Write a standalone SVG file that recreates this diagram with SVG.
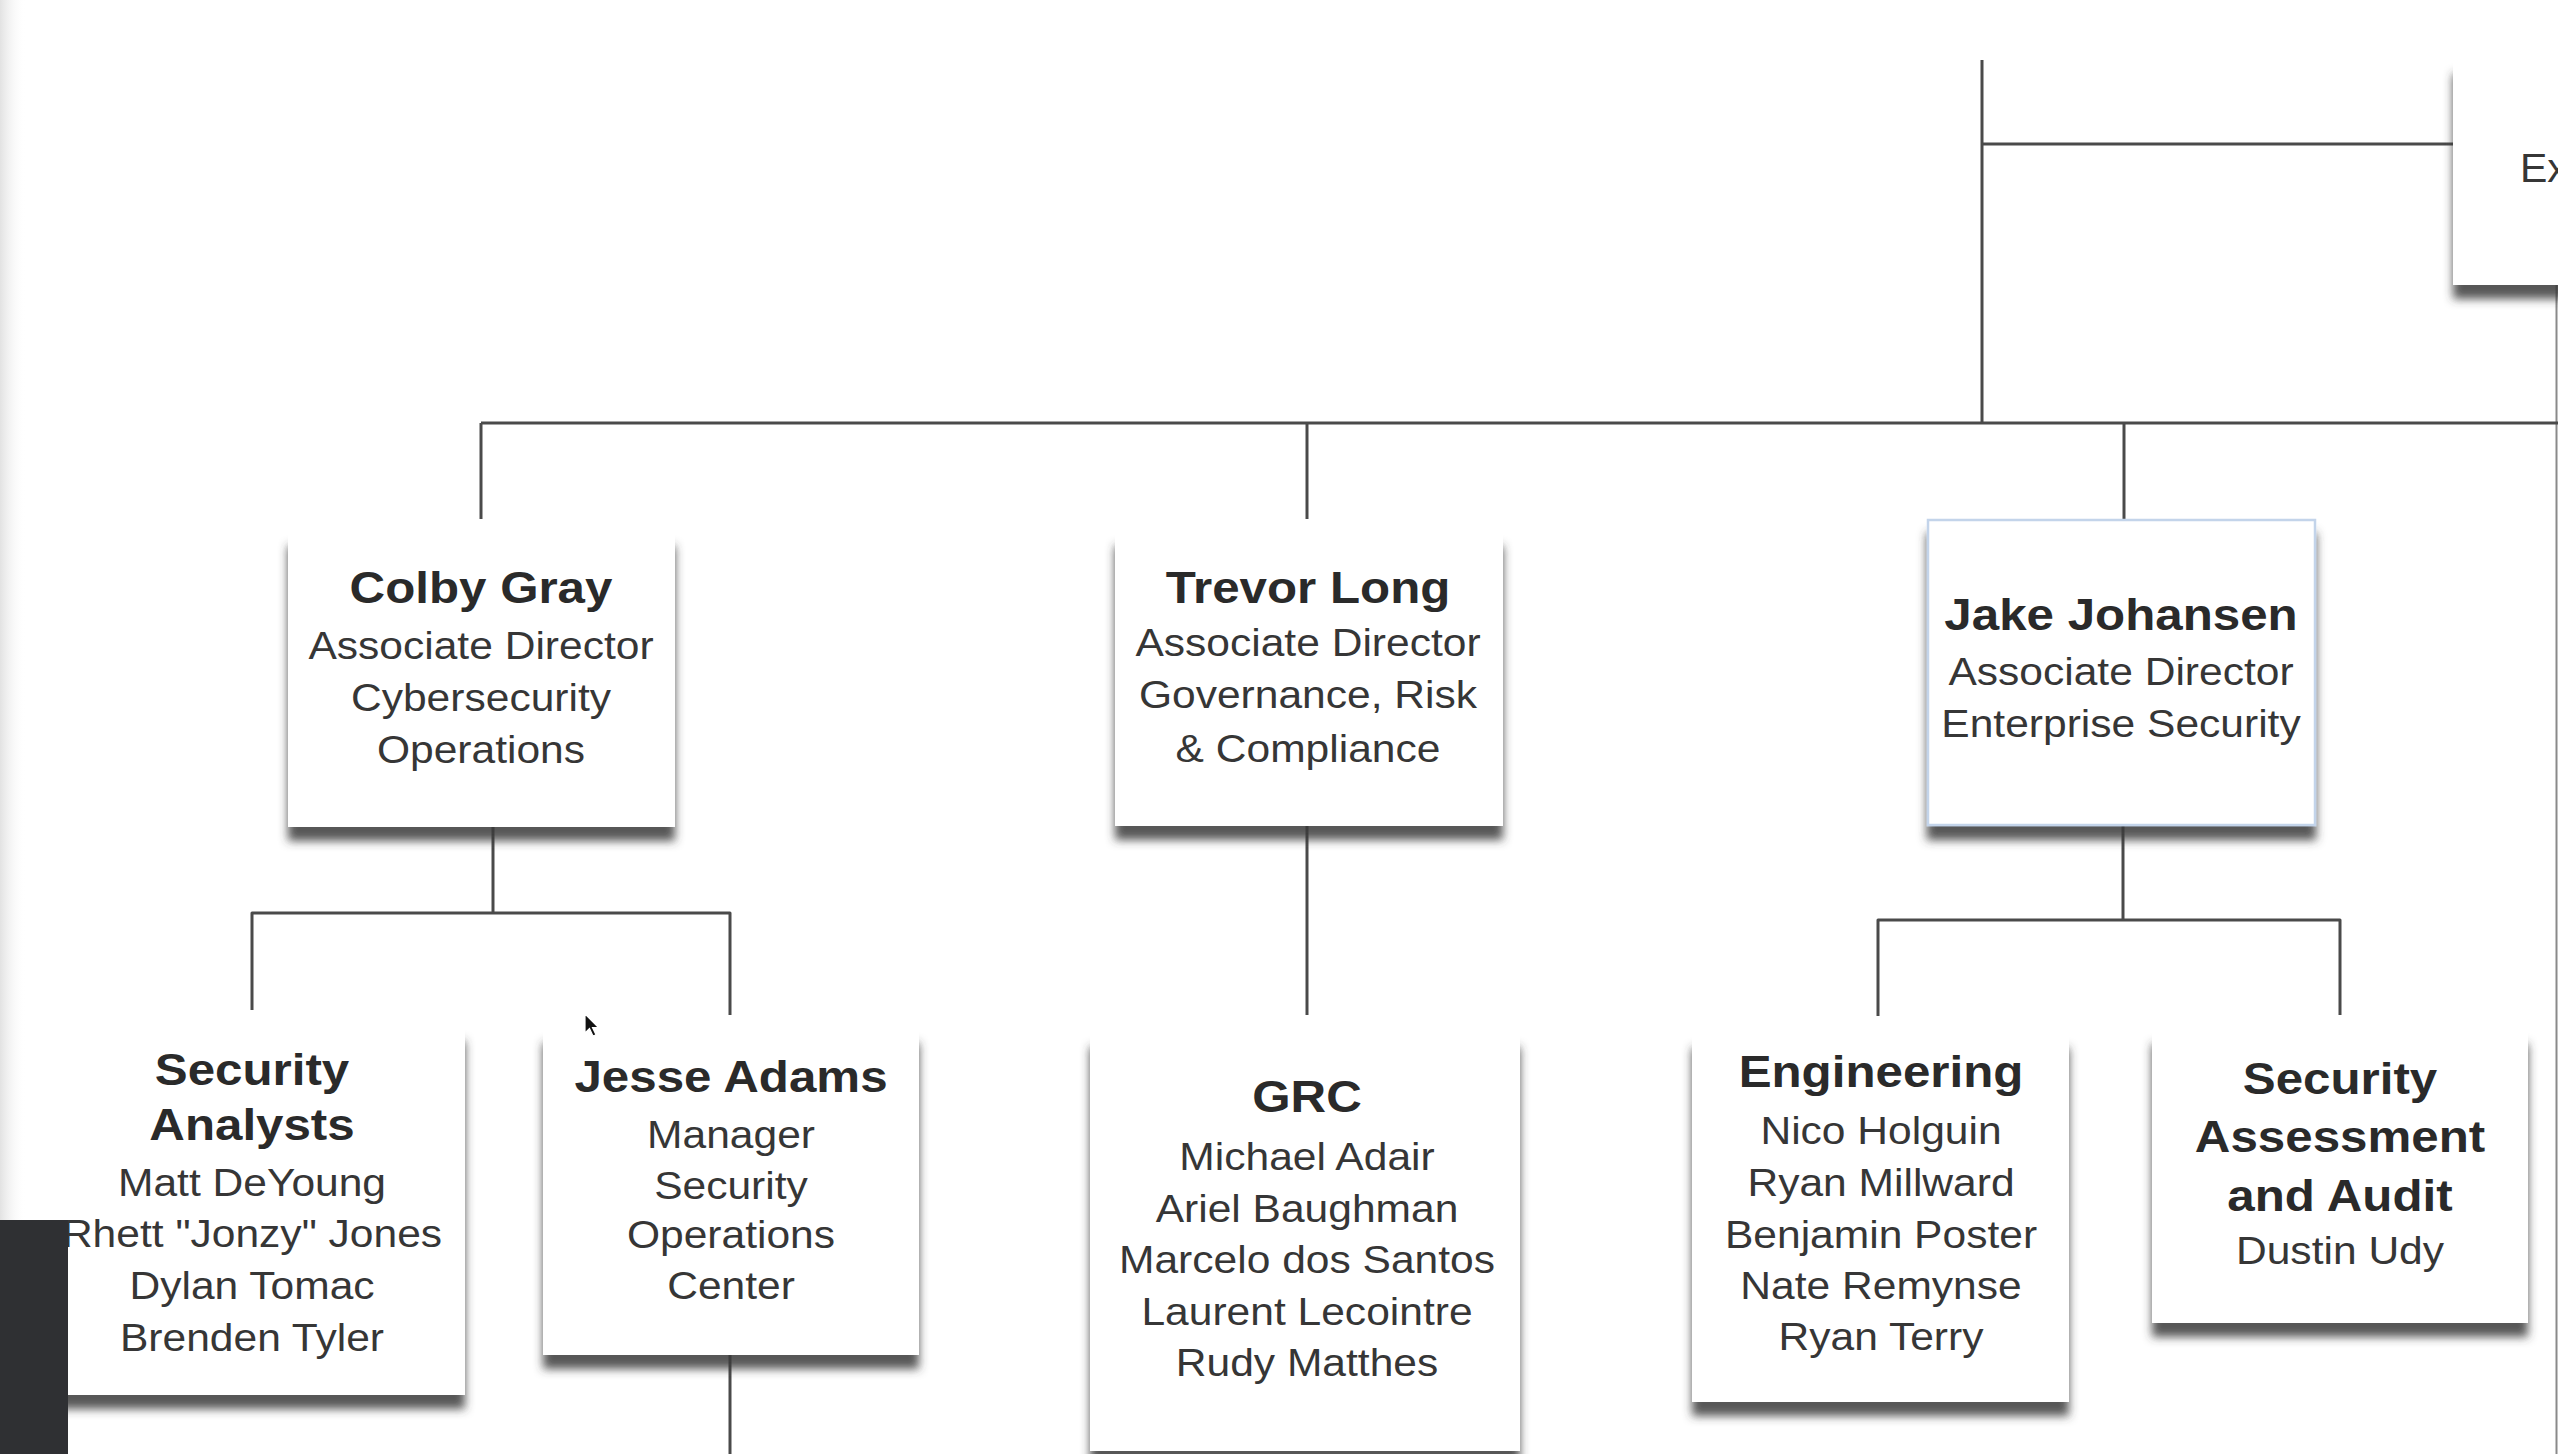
<svg xmlns="http://www.w3.org/2000/svg" width="2558" height="1454" viewBox="0 0 2558 1454">
<defs>
<style>
.box{fill:#ffffff;filter:url(#sh)}
.sel{stroke:#c3d4ea;stroke-width:2.5}
.ln{fill:none;stroke:#4a4a4a;stroke-width:3;stroke-linejoin:round;stroke-linecap:butt}
.t{font-family:"Liberation Sans",Arial,sans-serif;font-weight:bold;font-size:44px;fill:#2a2a2a;text-anchor:middle}
.b{font-family:"Liberation Sans",Arial,sans-serif;font-size:38px;fill:#363636;text-anchor:middle}
</style>
<filter id="sh" x="-10%" y="-10%" width="120%" height="135%">
<feGaussianBlur in="SourceAlpha" stdDeviation="5"/>
<feOffset dy="14" result="o"/>
<feFlood flood-color="#3a3a3a" flood-opacity="0.85"/>
<feComposite in2="o" operator="in"/>
<feMerge><feMergeNode/><feMergeNode in="SourceGraphic"/></feMerge>
</filter>
<linearGradient id="edge" x1="0" y1="0" x2="1" y2="0">
<stop offset="0" stop-color="#e2e2e2"/>
<stop offset="1" stop-color="#ffffff" stop-opacity="0"/>
</linearGradient>
</defs>
<rect x="0" y="0" width="2558" height="1454" fill="#ffffff"/>
<line x1="2556.5" y1="60" x2="2556.5" y2="1454" stroke="#8a8a8a" stroke-width="2"/>

<g id="connectors">
<path class="ln" d="M1982,60 V423"/>
<path class="ln" d="M1982,144 H2453"/>
<path class="ln" d="M481,423 H2558"/>
<path class="ln" d="M481,423 V519"/>
<path class="ln" d="M1307,423 V519"/>
<path class="ln" d="M2124,423 V520"/>
<path class="ln" d="M493,827 V913"/>
<path class="ln" d="M252,1010 V913 H730 V1015"/>
<path class="ln" d="M730,1355 V1454"/>
<path class="ln" d="M1307,826 V1015"/>
<path class="ln" d="M2123,825 V920"/>
<path class="ln" d="M1878,1016 V920 H2340 V1015"/>
</g>

<g id="node-exec">
<rect class="box" x="2453" y="60" width="200" height="225"/>
<text class="b" x="2520" y="182" style="text-anchor:start;font-size:41px">Ex</text>
</g>

<g id="node-colby">
<rect class="box" x="288" y="532" width="387" height="295"/>
<g transform="translate(481,0) scale(1.12,1)">
<text class="t" x="0" y="603">Colby Gray</text>
<text class="b" x="0" y="659">Associate Director</text>
<text class="b" x="0" y="711">Cybersecurity</text>
<text class="b" x="0" y="763">Operations</text>
</g>
</g>

<g id="node-trevor">
<rect class="box" x="1115" y="532" width="388" height="294"/>
<g transform="translate(1308,0) scale(1.12,1)">
<text class="t" x="0" y="603">Trevor Long</text>
<text class="b" x="0" y="656">Associate Director</text>
<text class="b" x="0" y="708">Governance, Risk</text>
<text class="b" x="0" y="762">&amp; Compliance</text>
</g>
</g>

<g id="node-jake">
<rect class="box sel" x="1928" y="520" width="387" height="305"/>
<g transform="translate(2121,0) scale(1.12,1)">
<text class="t" x="0" y="630">Jake Johansen</text>
<text class="b" x="0" y="685">Associate Director</text>
<text class="b" x="0" y="737">Enterprise Security</text>
</g>
</g>

<g id="node-analysts">
<rect class="box" x="-30" y="1027" width="495" height="368"/>
<g transform="translate(252,0) scale(1.12,1)">
<text class="t" x="0" y="1085">Security</text>
<text class="t" x="0" y="1140">Analysts</text>
<text class="b" x="0" y="1196">Matt DeYoung</text>
<text class="b" x="0" y="1247">Rhett "Jonzy" Jones</text>
<text class="b" x="0" y="1299">Dylan Tomac</text>
<text class="b" x="0" y="1351">Brenden Tyler</text>
</g>
</g>

<g id="node-jesse">
<rect class="box" x="543" y="1029" width="376" height="326"/>
<g transform="translate(731,0) scale(1.12,1)">
<text class="t" x="0" y="1092">Jesse Adams</text>
<text class="b" x="0" y="1148">Manager</text>
<text class="b" x="0" y="1199">Security</text>
<text class="b" x="0" y="1248">Operations</text>
<text class="b" x="0" y="1299">Center</text>
</g>
</g>

<g id="node-grc">
<rect class="box" x="1090" y="1033" width="430" height="418"/>
<g transform="translate(1307,0) scale(1.12,1)">
<text class="t" x="0" y="1112">GRC</text>
<text class="b" x="0" y="1170">Michael Adair</text>
<text class="b" x="0" y="1222">Ariel Baughman</text>
<text class="b" x="0" y="1273">Marcelo dos Santos</text>
<text class="b" x="0" y="1325">Laurent Lecointre</text>
<text class="b" x="0" y="1376">Rudy Matthes</text>
</g>
</g>

<g id="node-engineering">
<rect class="box" x="1692" y="1034" width="377" height="368"/>
<g transform="translate(1881,0) scale(1.12,1)">
<text class="t" x="0" y="1087">Engineering</text>
<text class="b" x="0" y="1144">Nico Holguin</text>
<text class="b" x="0" y="1196">Ryan Millward</text>
<text class="b" x="0" y="1248">Benjamin Poster</text>
<text class="b" x="0" y="1299">Nate Remynse</text>
<text class="b" x="0" y="1350">Ryan Terry</text>
</g>
</g>

<g id="node-assessment">
<rect class="box" x="2152" y="1030" width="376" height="293"/>
<g transform="translate(2340,0) scale(1.12,1)">
<text class="t" x="0" y="1094">Security</text>
<text class="t" x="0" y="1152">Assessment</text>
<text class="t" x="0" y="1211">and Audit</text>
<text class="b" x="0" y="1264">Dustin Udy</text>
</g>
</g>

<rect x="0" y="0" width="26" height="1220" fill="url(#edge)"/>
<rect x="0" y="1220" width="68" height="234" fill="#2f3033"/>
<polygon points="585,1014 585,1033 589.5,1028.5 593,1036 596,1034.8 592.5,1027.5 598.5,1027.5" fill="#111" stroke="#fff" stroke-width="1.2"/>
</svg>
